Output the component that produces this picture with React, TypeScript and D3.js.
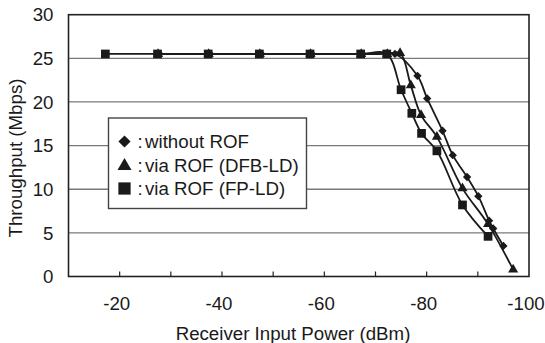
import React, { useEffect, useRef } from 'react';
import * as d3 from 'd3';

// without ROF (diamond)
const woX = [-27.8, -37.7, -47.7, -57.6, -67.5, -73.8, -78.2, -80.1, -83.1, -85.1, -87.9, -90.1, -92.2, -93.0, -95.0];
const woY = [25.5, 25.5, 25.5, 25.5, 25.5, 25.5, 23.0, 20.4, 16.7, 13.9, 11.4, 9.2, 6.4, 5.5, 3.5];
// via ROF (DFB-LD) (triangle)
const dfbX = [-27.5, -37.4, -47.4, -57.3, -67.2, -72.3, -74.8, -76.9, -78.9, -82.0, -87.0, -92.0, -96.9];
const dfbY = [25.5, 25.5, 25.5, 25.5, 25.5, 25.5, 25.6, 21.9, 18.5, 16.0, 10.1, 6.0, 0.8];
// via ROF (FP-LD) (square)
const fpX = [-17.2, -27.4, -37.3, -47.3, -57.2, -67.1, -72.2, -75.0, -77.1, -79.0, -82.0, -87.0, -92.0];
const fpY = [25.5, 25.5, 25.5, 25.5, 25.5, 25.5, 25.5, 21.4, 18.7, 16.4, 14.4, 8.2, 4.6];

const xTicks = [-20, -30, -40, -50, -60, -70, -80, -90];
const xLabels = [-20, -40, -60, -80, -100];
const yTicks = [0, 5, 10, 15, 20, 25, 30];
const legendLabels = ['without ROF', 'via ROF (DFB-LD)', 'via ROF (FP-LD)'];

export default function App() {
  const ref = useRef<SVGSVGElement>(null);

  useEffect(() => {
    const svg = d3.select(ref.current);
    svg.selectAll('*').remove();
    const font = '"Liberation Sans", Arial, sans-serif';
    const fs = 18.7;
    const ink = '#1a1a1a';

    const left = 68.5, right = 529, top = 14.7, bottom = 276.5;
    const x = d3.scaleLinear().domain([-10, -100]).range([left, right]);
    const y = d3.scaleLinear().domain([0, 30]).range([bottom, top]);

    // grid lines
    svg.append('g').selectAll('line')
      .data(yTicks.filter(d => d > 0 && d < 30))
      .enter().append('line')
      .attr('x1', left).attr('x2', right)
      .attr('y1', d => y(d)).attr('y2', d => y(d))
      .attr('stroke', '#7a7a7a').attr('stroke-width', 1.3);

    // frame
    svg.append('rect')
      .attr('x', left).attr('y', top)
      .attr('width', right - left).attr('height', bottom - top)
      .attr('fill', 'none').attr('stroke', '#222').attr('stroke-width', 1.6);

    // inward x ticks
    svg.append('g').selectAll('line')
      .data(xTicks).enter().append('line')
      .attr('x1', d => x(d)).attr('x2', d => x(d))
      .attr('y1', bottom).attr('y2', bottom - 5)
      .attr('stroke', '#222').attr('stroke-width', 1.2);

    // tick labels
    svg.append('g').selectAll('text')
      .data(xLabels).enter().append('text')
      .attr('x', d => x(d) - 3).attr('y', 310)
      .attr('text-anchor', 'middle')
      .attr('font-family', font).attr('font-size', fs).attr('fill', ink)
      .text(d => d);
    svg.append('g').selectAll('text')
      .data(yTicks).enter().append('text')
      .attr('x', 53.5).attr('y', d => y(d) + 6.7)
      .attr('text-anchor', 'end')
      .attr('font-family', font).attr('font-size', fs).attr('fill', ink)
      .text(d => d);

    // axis titles
    svg.append('text')
      .attr('x', 293).attr('y', 339.5)
      .attr('text-anchor', 'middle')
      .attr('font-family', font).attr('font-size', fs).attr('fill', ink)
      .text('Receiver Input Power (dBm)');
    svg.append('text')
      .attr('transform', 'translate(22,158) rotate(-90)')
      .attr('text-anchor', 'middle')
      .attr('font-family', font).attr('font-size', fs).attr('fill', ink)
      .text('Throughput (Mbps)');

    const line = d3.line<[number, number]>()
      .x(d => x(d[0])).y(d => y(d[1]))
      .curve(d3.curveCatmullRom.alpha(0.5));

    const diamond = d3.symbol().type(d3.symbolDiamond2);
    const triangle = d3.symbol().type(d3.symbolTriangle);
    const square = d3.symbol().type(d3.symbolSquare);

    const series = [
      { xs: woX, ys: woY, sym: diamond.size(44)() },
      { xs: dfbX, ys: dfbY, sym: triangle.size(44)() },
      { xs: fpX, ys: fpY, sym: square.size(76)() },
    ];

    series.forEach(s => {
      const pts: [number, number][] = s.xs.map((v, i) => [v, s.ys[i]]);
      svg.append('path')
        .attr('d', line(pts))
        .attr('fill', 'none').attr('stroke', ink).attr('stroke-width', 1.8);
    });
    series.forEach(s => {
      svg.append('g').selectAll('path')
        .data(s.xs.map((v, i) => [v, s.ys[i]]))
        .enter().append('path')
        .attr('transform', d => 'translate(' + x(d[0]) + ',' + y(d[1]) + ')')
        .attr('d', s.sym)
        .attr('fill', ink);
    });

    // legend
    const lg = svg.append('g');
    lg.append('rect')
      .attr('x', 108.5).attr('y', 118)
      .attr('width', 198).attr('height', 90.5)
      .attr('fill', '#fff').attr('stroke', '#444').attr('stroke-width', 1.4);
    const legendSyms = [diamond.size(95)(), triangle.size(85)(), square.size(150)()];
    const rowY = [141.5, 165, 188.5];
    legendLabels.forEach((label, i) => {
      lg.append('path')
        .attr('transform', 'translate(124.5,' + (rowY[i] + (i === 1 ? 1 : 0)) + ')')
        .attr('d', legendSyms[i])
        .attr('fill', ink);
      lg.append('text')
        .attr('x', 137.5).attr('y', rowY[i] + 6.7)
        .attr('font-family', font).attr('font-size', fs).attr('fill', ink)
        .text(':');
      lg.append('text')
        .attr('x', 145).attr('y', rowY[i] + 6.7)
        .attr('font-family', font).attr('font-size', fs).attr('fill', ink)
        .text(label);
    });
  }, []);

  return (
    <div>
      <svg ref={ref} width={545} height={343}
        style={{ position: 'absolute', left: 0, top: 0, background: '#fff' }}></svg>
    </div>
  );
}
